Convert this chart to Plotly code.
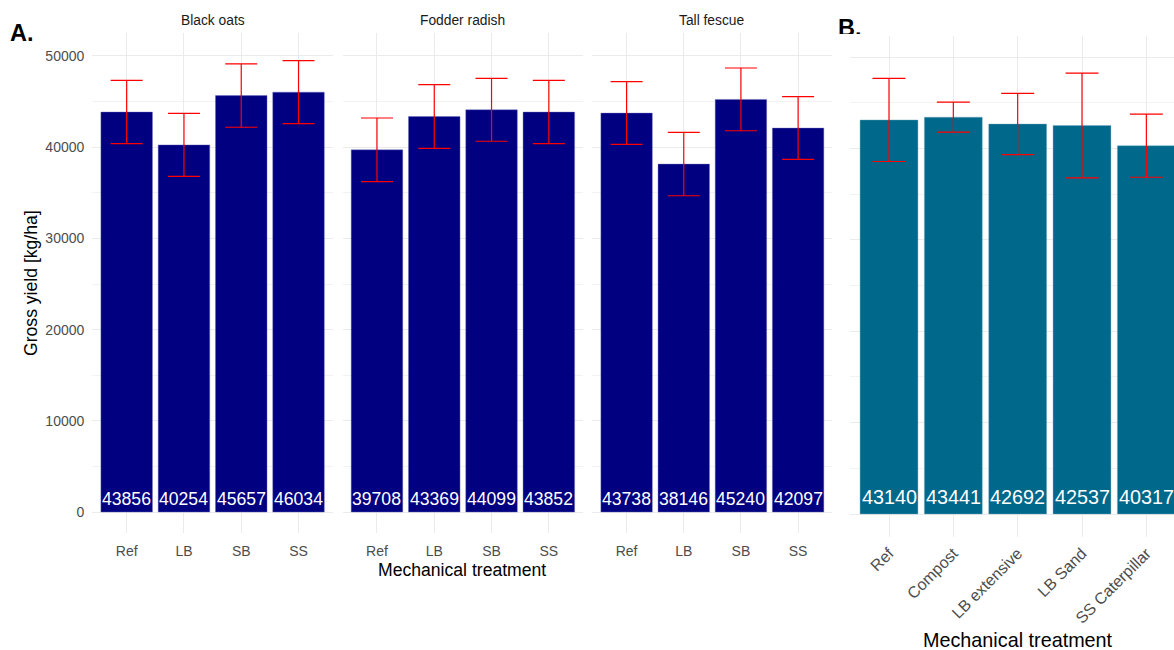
import plotly.graph_objects as go

# ---- data ---------------------------------------------------------------
crops = ["Black oats", "Fodder radish", "Tall fescue"]
treatments_a = ["Ref", "LB", "SB", "SS"]

black_oats = [43856, 40254, 45657, 46034]
black_oats_err = [3460, 3450, 3470, 3450]
fodder_radish = [39708, 43369, 44099, 43852]
fodder_radish_err = [3490, 3490, 3450, 3470]
tall_fescue = [43738, 38146, 45240, 42097]
tall_fescue_err = [3440, 3470, 3440, 3440]

treatments_b = ["Ref", "Compost", "LB extensive", "LB Sand", "SS Caterpillar"]
yield_b = [43140, 43441, 42692, 42537, 40317]
yield_b_err = [4550, 1640, 3350, 5730, 3450]

y_ticks = [0, 10000, 20000, 30000, 40000, 50000]

# ---- page geometry (pixels -> paper fractions) ---------------------------
W, H = 1174, 650
FONT = "Liberation Sans, Arial, sans-serif"
NAVY = "#000080"
TEAL = "#00688B"
GRID = "#EBEBEB"
TICK_COL = "#4D4D4D"


def fx(px):
    return px / W


def fy(px):
    return 1 - px / H


panels_a = [(92.3, 332.9), (342.6, 583.2), (592.3, 832.4)]
series_a = [
    (black_oats, black_oats_err),
    (fodder_radish, fodder_radish_err),
    (tall_fescue, tall_fescue_err),
]

fig = go.Figure()
annotations = []

# ---- panel A: three facets ----------------------------------------------
for i, (vals, errs) in enumerate(series_a):
    xa = "x" if i == 0 else f"x{i + 1}"
    fig.add_trace(go.Bar(
        x=treatments_a, y=vals, xaxis=xa, yaxis="y",
        width=0.9,
        marker=dict(color=NAVY, line=dict(color="rgba(110,110,190,0.7)", width=0.6)),
        error_y=dict(type="data", array=errs, color="#FF0000",
                     thickness=1.2, width=16),
        showlegend=False, hoverinfo="x+y",
    ))
    # value labels sitting on the bar base
    for cat, v in zip(treatments_a, vals):
        annotations.append(dict(
            text=str(v), x=cat, y=0, xref=xa, yref="y",
            xanchor="center", yanchor="bottom", yshift=2, borderpad=0,
            showarrow=False, font=dict(family=FONT, size=17.6, color="white"),
        ))

# ---- panel B ------------------------------------------------------------
fig.add_trace(go.Bar(
    x=treatments_b, y=yield_b, xaxis="x4", yaxis="y2",
    width=0.9,
    marker=dict(color=TEAL, line=dict(color="rgba(120,170,190,0.7)", width=0.6)),
    error_y=dict(type="data", array=yield_b_err, color="#FF0000",
                 thickness=1.2, width=16.5),
    showlegend=False, hoverinfo="x+y",
))
for cat, v in zip(treatments_b, yield_b):
    annotations.append(dict(
        text=str(v), x=cat, y=0, xref="x4", yref="y2",
        xanchor="center", yanchor="bottom", yshift=5, borderpad=0,
        showarrow=False, font=dict(family=FONT, size=19.8, color="white"),
    ))

# ---- axes -----------------------------------------------------------------
x_common = dict(
    type="category", showgrid=True, gridcolor=GRID, gridwidth=1.1,
    zeroline=False, showline=False, ticks="",
    tickfont=dict(family=FONT, size=14, color=TICK_COL),
)
y_common = dict(
    showgrid=True, gridcolor=GRID, gridwidth=1.1, zeroline=False,
    showline=False, ticks="",
    tickvals=y_ticks, ticktext=[str(v) for v in y_ticks],
    minor=dict(dtick=5000, tick0=0, showgrid=True, gridcolor="#F2F2F2", gridwidth=0.7),
)

layout = dict(
    width=W, height=H,
    margin=dict(l=0, r=0, t=0, b=0),
    paper_bgcolor="white", plot_bgcolor="white",
    font=dict(family=FONT),
    bargap=0.1,
)

for i, (left, right) in enumerate(panels_a):
    key = "xaxis" if i == 0 else f"xaxis{i + 1}"
    layout[key] = dict(x_common, domain=[fx(left), fx(right)], anchor="y",
                       range=[-0.6, 3.6], ticklabelstandoff=8)

layout["yaxis"] = dict(
    y_common, domain=[fy(533), fy(33)], anchor="x", range=[-2300, 52520],
    tickfont=dict(family=FONT, size=14, color=TICK_COL), ticklabelstandoff=7,
)

layout["xaxis4"] = dict(
    x_common, domain=[fx(850.4), 1.0], anchor="y2", range=[-0.6, 4.43],
    tickangle=-45, tickfont=dict(family=FONT, size=16, color=TICK_COL),
    ticklabelstandoff=3,
)
layout["yaxis2"] = dict(
    y_common, domain=[fy(537), fy(35.7)], anchor="x4", range=[-2518, 52362],
    showticklabels=False,
)

# ---- titles, facet strips and panel tags ----------------------------------
for name, (left, right) in zip(crops, panels_a):
    annotations.append(dict(
        text=name, x=fx((left + right) / 2), y=fy(20), xref="paper", yref="paper",
        xanchor="center", yanchor="middle", showarrow=False,
        font=dict(family=FONT, size=13.8, color="#1A1A1A"),
    ))

annotations += [
    dict(text="Gross yield [kg/ha]", x=fx(31), y=fy(283), xref="paper", yref="paper",
         textangle=-90, xanchor="center", yanchor="middle", showarrow=False,
         font=dict(family=FONT, size=17.6, color="black")),
    dict(text="Mechanical treatment", x=fx(462.4), y=fy(570), xref="paper", yref="paper",
         xanchor="center", yanchor="middle", showarrow=False,
         font=dict(family=FONT, size=17.6, color="black")),
    dict(text="Mechanical treatment", x=fx(1017.6), y=fy(640), xref="paper", yref="paper",
         xanchor="center", yanchor="middle", showarrow=False,
         font=dict(family=FONT, size=19.8, color="black")),
    dict(text="<b>A.</b>", x=fx(8), y=fy(18), xref="paper", yref="paper",
         xanchor="left", yanchor="top", showarrow=False,
         font=dict(family=FONT, size=23.5, color="black")),
    # tag for the second panel, its lower edge cut off by the box height
    dict(text="<b>B.</b>", x=fx(835.5), y=fy(13), xref="paper", yref="paper",
         xanchor="left", yanchor="top", showarrow=False, valign="top",
         height=19, width=32, align="left",
         font=dict(family=FONT, size=23.5, color="black")),
]
layout["annotations"] = annotations

fig.update_layout(**layout)
fig.write_html("out.html")
